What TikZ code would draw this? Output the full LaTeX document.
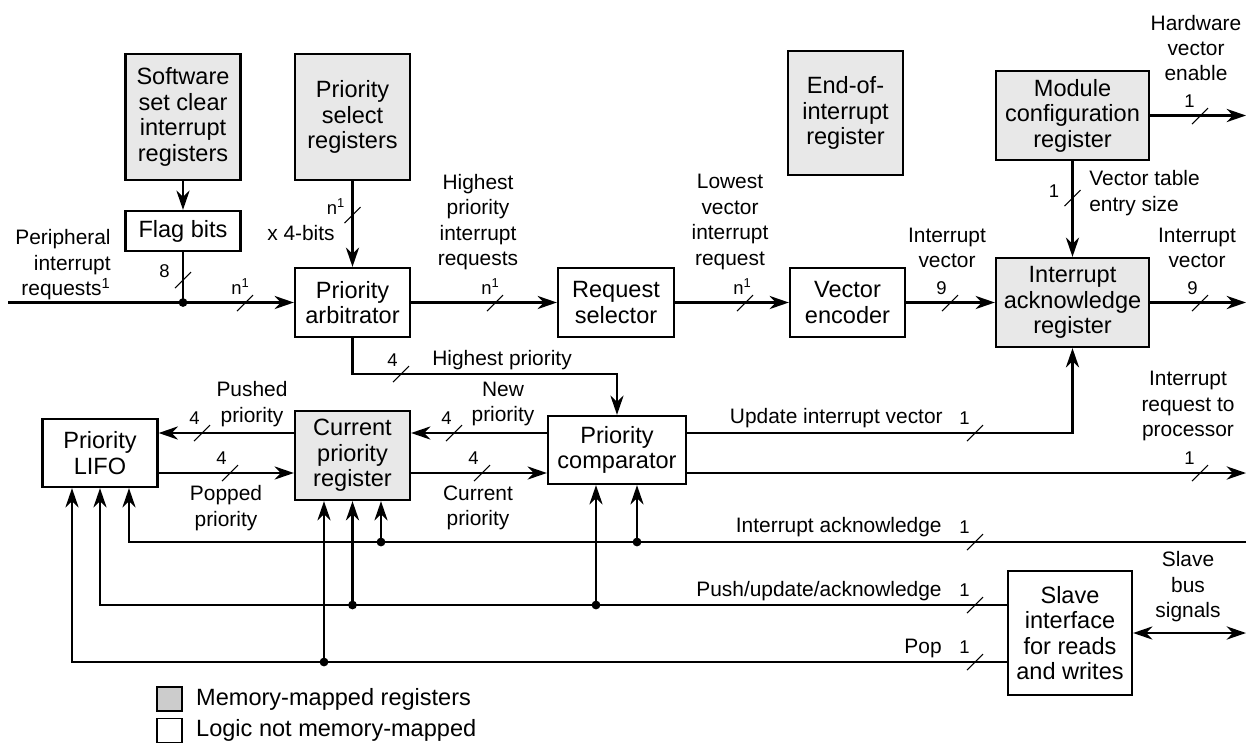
\documentclass[tikz,border=0pt]{standalone}
\usepackage{fontspec}
\setmainfont{Liberation Sans}
\usetikzlibrary{positioning,arrows.meta,calc}
\definecolor{regfill}{RGB}{232,232,232}
\definecolor{keyfill}{RGB}{204,204,204}
\newcommand{\busmark}[3]{%
  \draw[tick] ($(#1)+(-8,8)$) -- ($(#1)+(8,-8)$);
  \node[bw, anchor=south east] at ($(#1)+(#2)$) {#3};}

\begin{document}
\begin{tikzpicture}[x=0.02cm, y=-0.02cm,
  blk/.style={rectangle, draw, line width=1.3pt, fill=white, align=center, inner sep=1pt,
              font=\fontsize{13.4}{14.5}\selectfont, minimum width=2.3cm},
  reg/.style={blk, fill=regfill},
  lbl/.style={font=\fontsize{11.9}{14.5}\selectfont, align=center, inner sep=0pt},
  bw/.style={font=\fontsize{10.5}{12}\selectfont, inner sep=0pt},
  key/.style={rectangle, draw, line width=1pt, minimum width=0.5cm, minimum height=0.48cm, inner sep=0pt},
  keytxt/.style={font=\fontsize{13.4}{14.5}\selectfont, inner sep=0pt},
  tick/.style={line width=0.6pt},
  wire/.style={line width=1.3pt},
  ar/.style={wire, -{Stealth[length=11pt, width=7.5pt, inset=3.5pt]}},
  dar/.style={wire, {Stealth[length=11pt, width=7.5pt, inset=3.5pt]}-{Stealth[length=11pt, width=7.5pt, inset=3.5pt]}},
  dot/.style={circle, fill, inner sep=0pt, minimum size=5pt}
]
\useasboundingbox (0,0) rectangle (1249,745);

\node[reg, minimum height=2.52cm] (swreg) at (183,117) {Software\\set clear\\interrupt\\registers};
\node[reg, minimum height=2.52cm] (psreg) at (352.5,117) {Priority\\select\\registers};
\node[blk, minimum height=0.8cm]  (flag)  at (183,231) {Flag bits};
\node[blk, minimum height=1.38cm] (arb)   at (352.5,302.5) {Priority\\arbitrator};
\node[blk, minimum width=2.32cm, minimum height=1.38cm] (reqsel) at (616,302.5) {Request\\selector};
\node[reg, minimum height=2.48cm] (eoi)   at (845.5,113) {End-of-\\interrupt\\register};
\node[blk, minimum height=1.38cm] (venc)  at (847.5,302.5) {Vector\\encoder};
\node[reg, minimum width=3.06cm, minimum height=1.78cm] (mcr) at (1072.5,115.5) {Module\\configuration\\register};
\node[reg, minimum width=3.06cm, minimum height=1.78cm] (iar) at (1072.5,302.5) {Interrupt\\acknowledge\\register};
\node[blk, minimum height=1.36cm] (lifo)  at (100,453) {Priority\\LIFO};
\node[reg, minimum height=1.78cm] (cpr)   at (352.5,455.5) {Current\\priority\\register};
\node[blk, minimum width=2.76cm, minimum height=1.36cm] (comp) at (617,450) {Priority\\comparator};
\node[blk, minimum width=2.48cm, minimum height=2.48cm] (slave) at (1070,633) {Slave\\interface\\for reads\\and writes};

\coordinate (pin)    at (8,302.5);
\coordinate (hwout)  at (1246,115.5);
\coordinate (ivout)  at (1246,302.5);
\coordinate (irqout) at (1246,473);
\coordinate (ackin)  at (1246,542);
\coordinate (busout) at (1246,633);
\coordinate (hHi)   at (0,374);
\coordinate (hA)    at (0,433);
\coordinate (hB)    at (0,473);
\coordinate (hAck)  at (0,542);
\coordinate (hPush) at (0,605);
\coordinate (hPop)  at (0,662);
\coordinate (lf1) at ($(lifo.south)+(-28,0)$);
\coordinate (lf2) at (lifo.south);
\coordinate (lf3) at ($(lifo.south)+(29,0)$);
\coordinate (cf1) at ($(cpr.south)+(-28.5,0)$);
\coordinate (cf2) at (cpr.south);
\coordinate (cf3) at ($(cpr.south)+(28.5,0)$);
\coordinate (pf1) at ($(comp.south)+(-21,0)$);
\coordinate (pf2) at ($(comp.south)+(20,0)$);
\coordinate (jn)  at (flag.south |- arb.west);

\draw[ar] (swreg) -- (flag);
\draw[ar] (pin) -- (arb.west);
\draw[wire] (flag) -- (jn);
\node[dot] at (jn) {};
\draw[ar] (psreg) -- (arb);
\draw[ar] (arb) -- (reqsel);
\draw[ar] (reqsel) -- (venc);
\draw[ar] (venc) -- (iar);
\draw[ar] (iar) -- (ivout);
\draw[ar] (mcr) -- (hwout);
\draw[ar] (mcr) -- (iar);
\draw[ar] (arb.south) |- (comp.north |- hHi) -- (comp.north);
\draw[ar] (cpr.west |- hA) -- (lifo.east |- hA);
\draw[ar] (lifo.east |- hB) -- (cpr.west |- hB);
\draw[ar] (comp.west |- hA) -- (cpr.east |- hA);
\draw[ar] (cpr.east |- hB) -- (comp.west |- hB);
\draw[ar] (comp.east |- hA) -| (iar.south);
\draw[ar] (comp.east |- hB) -- (irqout);

\draw[ar] (ackin) -- (lf3 |- hAck) -- (lf3);
\draw[ar] (cf3 |- hAck) -- (cf3);
\draw[ar] (pf2 |- hAck) -- (pf2);
\node[dot] at (cf3 |- hAck) {};
\node[dot] at (pf2 |- hAck) {};
\draw[ar] (slave.west |- hPush) -- (lf2 |- hPush) -- (lf2);
\draw[ar] (cf2 |- hPush) -- (cf2);
\draw[ar] (pf1 |- hPush) -- (pf1);
\node[dot] at (cf2 |- hPush) {};
\node[dot] at (pf1 |- hPush) {};
\draw[ar] (slave.west |- hPop) -- (lf1 |- hPop) -- (lf1);
\draw[ar] (cf1 |- hPop) -- (cf1);
\node[dot] at (cf1 |- hPop) {};
\draw[dar] (slave.east) -- (busout);

\busmark{183,280}{-13,-2}{8}
\busmark{245,303}{5,-8}{n\textsuperscript{1}}
\busmark{352.5,215}{-7,0}{n\textsuperscript{1}}
\busmark{495,303}{5,-8}{n\textsuperscript{1}}
\busmark{745,303}{7,-8}{n\textsuperscript{1}}
\busmark{950,303}{-3,-8}{9}
\busmark{1200,303}{-2,-8}{9}
\busmark{1200,116}{-5,-8}{1}
\busmark{1072.5,198}{-13,0}{1}
\busmark{401,374}{-3,-7}{4}
\busmark{202,433}{-2,-8}{4}
\busmark{230,473}{-3,-8}{4}
\busmark{454,433}{-2,-8}{4}
\busmark{482,473}{-3,-8}{4}
\busmark{975,433}{-5,-8}{1}
\busmark{1200,473}{-5,-8}{1}
\busmark{975,542}{-5,-8}{1}
\busmark{975,605}{-5,-8}{1}
\busmark{975,662}{-5,-8}{1}

\node[lbl, align=right, anchor=east] (perlbl) at (111,265) {Peripheral\\interrupt\\requests\textsuperscript{1}};
\node[lbl, anchor=east] (x4lbl) at (335,233) {x 4-bits};
\node[lbl] (hilbl)  at (478,222) {Highest\\priority\\interrupt\\requests};
\node[lbl] (lolbl)  at (730,222) {Lowest\\vector\\interrupt\\request};
\node[lbl] (ivlbl)  at (947,248) {Interrupt\\vector};
\node[lbl] (ivolbl) at (1197,248) {Interrupt\\vector};
\node[lbl] (hwlbl)  at (1196,48) {Hardware\\vector\\enable};
\node[lbl, align=left, anchor=west] (vtlbl) at (1089,193) {Vector table\\entry size};
\node[lbl, anchor=west] (hplbl) at (432,360) {Highest priority};
\node[lbl] (pushlbl) at (252,404) {Pushed\\priority};
\node[lbl] (newlbl)  at (503,404) {New\\priority};
\node[lbl] (popdlbl) at (226,508) {Popped\\priority};
\node[lbl] (curlbl)  at (478,508) {Current\\priority};
\node[lbl, anchor=east] (updlbl) at (943,418) {Update interrupt vector};
\node[lbl] (irqlbl) at (1188,406) {Interrupt\\request to\\processor};
\node[lbl, anchor=east] (acklbl) at (942,527) {Interrupt acknowledge};
\node[lbl, anchor=east] (pualbl) at (942,591) {Push/update/acknowledge};
\node[lbl, anchor=east] (poplbl) at (942,648) {Pop};
\node[lbl] (sbslbl) at (1188,587) {Slave\\bus\\signals};

\node[key, fill=keyfill] (key1) at (169.5,699) {};
\node[key] (key2) at (169.5,730.5) {};
\node[keytxt, right=0.26cm of key1] (key1txt) {Memory-mapped registers};
\node[keytxt, right=0.26cm of key2] (key2txt) {Logic not memory-mapped};

\end{tikzpicture}
\end{document}
